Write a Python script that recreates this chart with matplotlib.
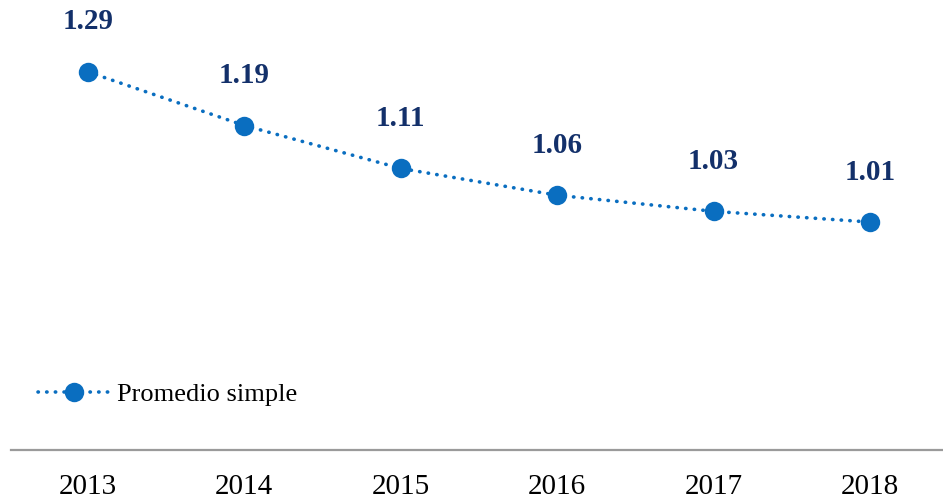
import matplotlib.pyplot as plt

years  = ["2013", "2014", "2015", "2016", "2017", "2018"]
values = [1.29, 1.19, 1.11, 1.06, 1.03, 1.01]
labels = ["1.29", "1.19", "1.11", "1.06", "1.03", "1.01"]

BLUE  = "#0A6EC0"
NAVY  = "#13306A"
GREY  = "#9A9A9A"
plt.rcParams["font.family"] = ["Liberation Serif", "DejaVu Serif"]

fig = plt.figure(figsize=(9.43, 5.01), dpi=100)
ax = fig.add_axes([11 / 943, 51 / 501, 932 / 943, 450 / 501])

x = range(len(years))
ax.plot(x, values, color=BLUE, lw=2.6, linestyle=(0, (0.1, 2.3)),
        dash_capstyle="round", marker="o", markersize=14,
        markeredgewidth=0, label="Promedio simple")

for i, (v, t) in enumerate(zip(values, labels)):
    ax.annotate(t, (i, v), xytext=(0, 36), textcoords="offset points",
                ha="center", va="center", fontsize=21, fontweight="bold", color=NAVY)

ax.set_xlim(-0.492, 5.467)
ax.set_ylim(0.585, 1.424)

for s in ["top", "right", "left"]:
    ax.spines[s].set_visible(False)
ax.spines["bottom"].set_color(GREY)
ax.spines["bottom"].set_linewidth(1.6)
ax.set_yticks([])
ax.set_xticks(list(x))
ax.set_xticklabels(years, fontsize=21, color="black")
ax.tick_params(axis="x", length=0, pad=17)

leg = ax.legend(loc="center left", bbox_to_anchor=(27 / 932, (501 - 394 - 51) / 450),
                frameon=False, fontsize=19, handlelength=2.7, handletextpad=0.3,
                borderaxespad=0, borderpad=0)

plt.savefig("out.png", dpi=100)
